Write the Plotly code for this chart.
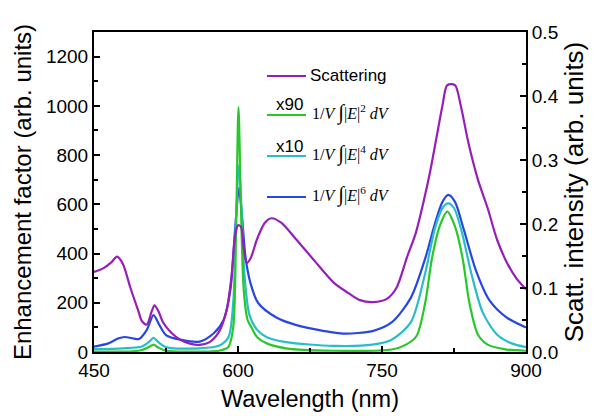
import plotly.graph_objects as go

# ---------------- data ----------------
scat_wl = [450, 460, 468, 474, 480, 488, 496, 500, 505, 510, 513, 517, 522, 530, 540, 550, 560, 570, 580, 588,
           593, 597, 600, 603, 606, 609, 613, 620, 628, 635, 645, 660, 680, 700, 715, 727, 741, 755, 765, 776,
           785, 793, 800, 807, 813, 818, 826, 832, 840, 850, 860, 870, 880, 890, 900]
scat_val = [0.125, 0.131, 0.140, 0.149, 0.138, 0.100, 0.065, 0.048, 0.043, 0.063, 0.073, 0.064, 0.046, 0.031,
            0.019, 0.013, 0.011, 0.015, 0.031, 0.065, 0.115, 0.181, 0.198, 0.196, 0.162, 0.139, 0.146, 0.177,
            0.202, 0.209, 0.202, 0.177, 0.142, 0.108, 0.092, 0.081, 0.078, 0.083, 0.100, 0.148, 0.185, 0.233,
            0.281, 0.337, 0.385, 0.417, 0.417, 0.385, 0.327, 0.269, 0.225, 0.175, 0.140, 0.115, 0.098]

e2_wl = [450, 490, 500, 507, 512, 517, 525, 560, 580, 590, 595, 598, 600.5, 603, 606, 610, 614, 620, 630, 650,
         700, 760, 775, 786, 795, 802, 810, 818, 826, 834, 841, 850, 860, 880, 900]
e2_val = [2, 3, 8, 20, 30, 18, 5, 2, 5, 20, 100, 500, 995, 600, 250, 130, 100, 60, 35, 15,
          5, 10, 30, 65, 200, 380, 510, 570, 510, 380, 200, 70, 30, 10, 5]

e4_wl = [450, 480, 500, 507, 512, 517, 525, 560, 580, 590, 595, 598, 601, 604, 607, 612, 620, 630, 650, 700,
         740, 760, 780, 795, 805, 813, 819, 825, 833, 843, 855, 870, 885, 900]
e4_val = [12, 15, 22, 40, 57, 40, 20, 15, 25, 60, 200, 550, 760, 550, 300, 150, 90, 60, 40, 25,
          30, 50, 120, 320, 500, 585, 604, 585, 490, 320, 160, 70, 35, 20]

e6_wl = [450, 465, 475, 482, 490, 497, 505, 512, 518, 525, 540, 560, 575, 585, 592, 597, 601, 604, 608, 613,
         621, 640, 660, 690, 710, 740, 760, 780, 795, 805, 813, 819, 826, 835, 848, 862, 880, 900]
e6_val = [22, 35, 55, 61, 56, 53, 90, 150, 110, 69, 50, 42, 77, 130, 250, 500, 666, 560, 380, 280,
          199, 140, 110, 85, 75, 85, 120, 220, 380, 520, 610, 638, 610, 500, 330, 210, 140, 100]

x_ticks = [450, 600, 750, 900]
y_ticks = [0, 200, 400, 600, 800, 1000, 1200]
y2_ticks = [0.0, 0.1, 0.2, 0.3, 0.4, 0.5]

PURPLE = "rgb(150,30,185)"
GREEN = "rgb(40,200,40)"
CYAN = "rgb(40,190,200)"
BLUE = "rgb(40,70,225)"

FONT = "Arial, Liberation Sans"

fig = go.Figure()
line_kw = dict(shape="spline", smoothing=0.8, width=2.2)
fig.add_trace(go.Scatter(x=e6_wl, y=e6_val, mode="lines", line=dict(color=BLUE, **line_kw), showlegend=False))
fig.add_trace(go.Scatter(x=e4_wl, y=e4_val, mode="lines", line=dict(color=CYAN, **line_kw), showlegend=False))
fig.add_trace(go.Scatter(x=e2_wl, y=e2_val, mode="lines", line=dict(color=GREEN, **line_kw), showlegend=False))
fig.add_trace(go.Scatter(x=scat_wl, y=scat_val, mode="lines", yaxis="y2",
                         line=dict(color=PURPLE, **line_kw), showlegend=False))

axis_common = dict(showline=True, linecolor="black", linewidth=2, ticks="inside", ticklen=6,
                   tickwidth=1.5, tickcolor="black", showgrid=False, zeroline=False, automargin=False,
                   tickfont=dict(family=FONT, size=19, color="black"))

fig.update_layout(
    width=597, height=416,
    margin=dict(l=94, r=71, t=32, b=64),
    paper_bgcolor="white", plot_bgcolor="white",
    xaxis=dict(range=[450, 900], tickvals=x_ticks, mirror=True,
               minor=dict(ticks="inside", ticklen=4, tickcolor="black", dtick=75, tick0=450),
               title=dict(text="Wavelength (nm)", font=dict(family=FONT, size=23.5, color="black"),
                          standoff=11),
               **axis_common),
    yaxis=dict(range=[0, 1300], tickvals=y_ticks,
               minor=dict(ticks="inside", ticklen=4, tickcolor="black", dtick=100, tick0=0),
               title=dict(text="Enhancement factor (arb. units)",
                          font=dict(family=FONT, size=24, color="black"), standoff=8),
               **axis_common),
    yaxis2=dict(range=[0, 0.5], tickvals=y2_ticks, ticktext=[f"{v:.1f}" for v in y2_ticks],
                overlaying="y", side="right",
                minor=dict(ticks="inside", ticklen=4, tickcolor="black", dtick=0.05, tick0=0),
                title=dict(text="Scatt. intensity (arb. units)",
                           font=dict(family=FONT, size=26, color="black"), standoff=6),
                **axis_common),
)

# legend (drawn manually)
leg_y = [76, 115, 156, 197]
leg_col = [PURPLE, GREEN, CYAN, BLUE]
for yy, col in zip(leg_y, leg_col):
    fig.add_shape(type="line", xref="paper", yref="paper",
                  x0=(267 - 94) / 432, x1=(306 - 94) / 432,
                  y0=(352 - yy) / 320, y1=(352 - yy) / 320,
                  line=dict(color=col, width=2.2))

def ann(text, x, y, size, family, xanchor="left"):
    fig.add_annotation(text=text, xref="paper", yref="paper", x=(x - 94) / 432, y=(352 - y) / 320,
                       xanchor=xanchor, yanchor="middle", showarrow=False,
                       font=dict(family=family, size=size, color="black"))

ann("Scattering", 308, 76, 17, FONT)
ann("x90", 289, 104, 17, FONT, "center")
ann("x10", 289, 146, 17, FONT, "center")
for yy, p in zip([112, 153, 194], ["2", "4", "6"]):
    ann(f"1/<i>V</i> <span style='font-size:21px'>∫</span>|<i>E</i>|<sup>{p}</sup> <i>dV</i>",
        310, yy, 16, "Liberation Serif, Times New Roman")

fig.write_html("out.html", config={"displayModeBar": False},
               post_script="document.body.style.margin='0';")
